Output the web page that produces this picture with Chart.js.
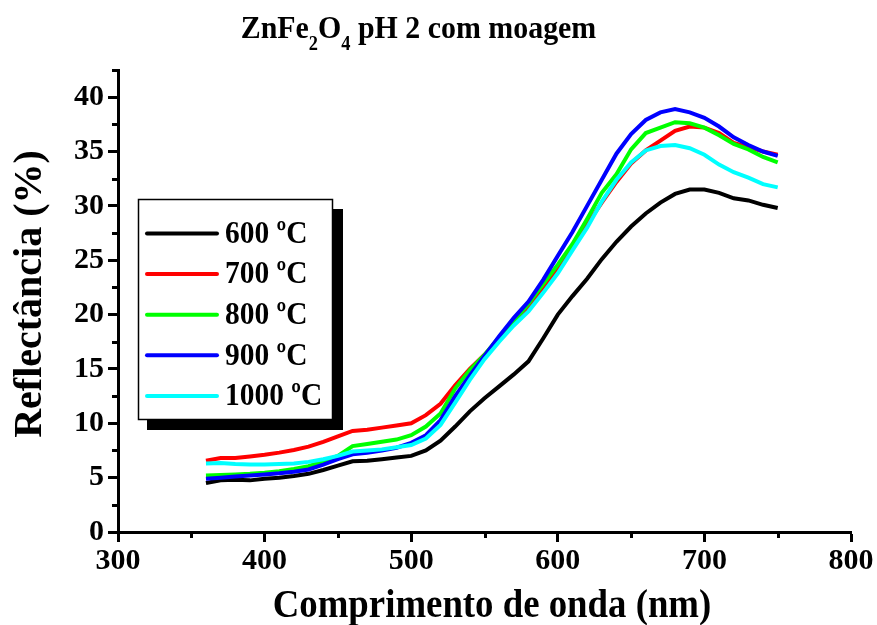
<!DOCTYPE html>
<html><head><meta charset="utf-8">
<script src="https://cdn.jsdelivr.net/npm/chart.js@4.4.0/dist/chart.umd.min.js"></script>
<style>html,body{margin:0;padding:0;background:#fff;overflow:hidden}canvas{display:block}</style>
</head><body><canvas id="c" width="877" height="625"></canvas>
<script>
// ---- data ----
const wavelengths = [360,370,380,390,400,410,420,430,440,450,460,470,480,490,500,510,520,530,540,550,560,570,580,590,600,610,620,630,640,650,660,670,680,690,700,710,720,730,740,750];
const r600 = [4.5,4.75,4.8,4.75,4.9,5.0,5.15,5.35,5.7,6.1,6.5,6.55,6.7,6.85,7.0,7.5,8.4,9.7,11.1,12.3,13.4,14.5,15.7,17.8,20.0,21.7,23.3,25.1,26.7,28.1,29.3,30.3,31.1,31.5,31.5,31.2,30.7,30.5,30.1,29.8];
const r700 = [6.55,6.8,6.8,6.95,7.1,7.3,7.55,7.85,8.3,8.8,9.3,9.4,9.6,9.8,10.0,10.75,11.8,13.5,15.0,16.3,17.7,19.1,20.6,22.3,24.1,26.1,28.3,30.3,32.2,33.9,35.1,36.0,36.9,37.3,37.2,36.7,35.8,35.4,35.0,34.7];
const r800 = [5.2,5.25,5.3,5.35,5.45,5.6,5.8,6.05,6.5,7.0,7.9,8.1,8.3,8.5,8.9,9.7,10.9,13.2,14.9,16.3,17.9,19.4,21.0,22.8,24.6,26.5,28.8,31.2,32.9,35.2,36.7,37.2,37.7,37.6,37.2,36.5,35.7,35.2,34.5,34.0];
const r900 = [4.9,5.0,5.1,5.2,5.3,5.4,5.55,5.75,6.2,6.7,7.15,7.3,7.5,7.75,8.2,8.9,10.3,12.5,14.4,16.2,18.0,19.7,21.2,23.2,25.4,27.6,30.0,32.4,34.8,36.6,37.9,38.6,38.9,38.6,38.1,37.3,36.3,35.6,35.0,34.6];
const r1000 = [6.3,6.35,6.25,6.2,6.2,6.25,6.3,6.45,6.7,7.0,7.4,7.5,7.6,7.8,8.0,8.6,9.85,11.9,14.0,15.9,17.5,19.0,20.3,22.0,23.8,25.9,28.0,30.4,32.4,34.0,35.1,35.5,35.6,35.3,34.7,33.8,33.1,32.6,32.0,31.7];
const seriesLabels = ['600 ºC','700 ºC','800 ºC','900 ºC','1000 ºC'];
const seriesColors = ['#000000','#ff0000','#00ff00','#0000ff','#00ffff'];
const xMajorTicks = [300,400,500,600,700,800];
const xMinorTicks = [350,450,550,650,750];
const yMajorTicks = [0,5,10,15,20,25,30,35,40];
const yMinorTicks = [2.5,7.5,12.5,17.5,22.5,27.5,32.5,37.5,42.5];
const xTitle = 'Comprimento de onda (nm)';
const yTitle = 'Reflectância (%)';

const FONT = '"Liberation Serif","Times New Roman",serif';
const SQ = 0.92; // horizontal compression of the reference lettering
const allSeries = [r600,r700,r800,r900,r1000];

const datasets = allSeries.map((arr,i)=>({
  label: seriesLabels[i],
  data: wavelengths.map((w,j)=>({x:w,y:arr[j]})),
  borderColor: seriesColors[i],
  backgroundColor: seriesColors[i],
  borderWidth: 4,
  pointRadius: 0,
  tension: 0,
  fill: false,
  order: allSeries.length - i
}));

const extras = {
  id: 'extras',
  afterDraw(chart){
    const ctx = chart.ctx;
    const xs = chart.scales.x, ys = chart.scales.y;
    const ca = chart.chartArea;
    ctx.save();
    // minor ticks
    ctx.strokeStyle = '#000'; ctx.lineWidth = 3;
    yMinorTicks.forEach(v=>{
      const y = Math.round(ys.getPixelForValue(v))+0.5;
      ctx.beginPath(); ctx.moveTo(ca.left, y); ctx.lineTo(ca.left-6, y); ctx.stroke();
    });
    xMinorTicks.forEach(v=>{
      const x = Math.round(xs.getPixelForValue(v))+0.5;
      ctx.beginPath(); ctx.moveTo(x, ca.bottom); ctx.lineTo(x, ca.bottom+6); ctx.stroke();
    });
    ctx.fillStyle = '#000';
    // chart title with subscripts
    const parts = [['ZnFe',0],['2',1],['O',0],['4',1],[' pH 2 com moagem',0]];
    const big = 'bold 32.5px '+FONT, small = 'bold 20px '+FONT;
    let w = 0;
    parts.forEach(p=>{ctx.font = p[1]?small:big; w += ctx.measureText(p[0]).width;});
    ctx.save();
    ctx.translate(418.5 - w*SQ/2, 38);
    ctx.scale(SQ, 1);
    ctx.textBaseline = 'alphabetic'; ctx.textAlign = 'left';
    let x = 0;
    parts.forEach(p=>{
      ctx.font = p[1]?small:big;
      ctx.fillText(p[0], x, p[1]? 12 : 0);
      x += ctx.measureText(p[0]).width;
    });
    ctx.restore();
    // x axis title
    ctx.save();
    ctx.translate(492, 616.5);
    ctx.scale(SQ, 1);
    ctx.font = 'bold 40px '+FONT;
    ctx.textAlign = 'center'; ctx.textBaseline = 'alphabetic';
    ctx.fillText(xTitle, 0, 0);
    ctx.restore();
    // y axis title
    ctx.save();
    ctx.translate(31, 294);
    ctx.rotate(-Math.PI/2);
    ctx.font = 'bold 40px '+FONT;
    ctx.textAlign = 'center'; ctx.textBaseline = 'middle';
    ctx.fillText(yTitle, 0, 0);
    ctx.restore();
    // legend box with shadow
    ctx.fillStyle = '#000';
    ctx.fillRect(147, 209, 196, 221);
    ctx.fillStyle = '#fff';
    ctx.fillRect(138.5, 199.5, 194, 220);
    ctx.strokeStyle = '#000'; ctx.lineWidth = 1.5;
    ctx.strokeRect(138.5, 199.5, 194, 220);
    chart.data.datasets.forEach((ds,i)=>{
      const y = 233.5 + i*40.6;
      ctx.strokeStyle = ds.borderColor; ctx.lineWidth = 4; ctx.lineCap = 'round';
      ctx.beginPath(); ctx.moveTo(147, y); ctx.lineTo(217, y); ctx.stroke();
      ctx.save();
      ctx.translate(225, y+1);
      ctx.scale(SQ, 1);
      ctx.font = 'bold 32px '+FONT;
      ctx.textBaseline = 'middle'; ctx.textAlign = 'left';
      ctx.fillStyle = '#000';
      ctx.fillText(ds.label, 0, 0);
      ctx.restore();
    });
    ctx.restore();
  }
};

new Chart(document.getElementById('c'), {
  type: 'line',
  data: { datasets },
  options: {
    responsive: false,
    animation: false,
    devicePixelRatio: 1,
    layout: { padding: { top: 70, right: 26, left: 0, bottom: 0 } },
    plugins: { legend: { display: false }, tooltip: { enabled: false }, title: { display: false } },
    scales: {
      x: {
        type: 'linear', position: 'bottom', min: 300, max: 800,
        afterBuildTicks: s => { s.ticks = xMajorTicks.map(v=>({value:v})); },
        afterFit: s => { s.height = 93; },
        ticks: { font: { family: FONT, size: 30, weight: 'bold' }, color: '#000', padding: 1, maxRotation: 0, autoSkip: false },
        grid: { drawOnChartArea: false, drawTicks: true, tickLength: 10, tickWidth: 3, tickColor: '#000' },
        border: { display: true, color: '#000', width: 3 },
        title: { display: false }
      },
      y: {
        type: 'linear', position: 'left', min: 0, max: 42.5,
        afterBuildTicks: s => { s.ticks = yMajorTicks.map(v=>({value:v})); },
        afterFit: s => { s.width = 118; },
        ticks: { font: { family: FONT, size: 30, weight: 'bold' }, color: '#000', padding: 4 },
        grid: { drawOnChartArea: false, drawTicks: true, tickLength: 10, tickWidth: 3, tickColor: '#000' },
        border: { display: true, color: '#000', width: 3 },
        title: { display: false }
      }
    }
  },
  plugins: [extras]
});
</script>
</body></html>
